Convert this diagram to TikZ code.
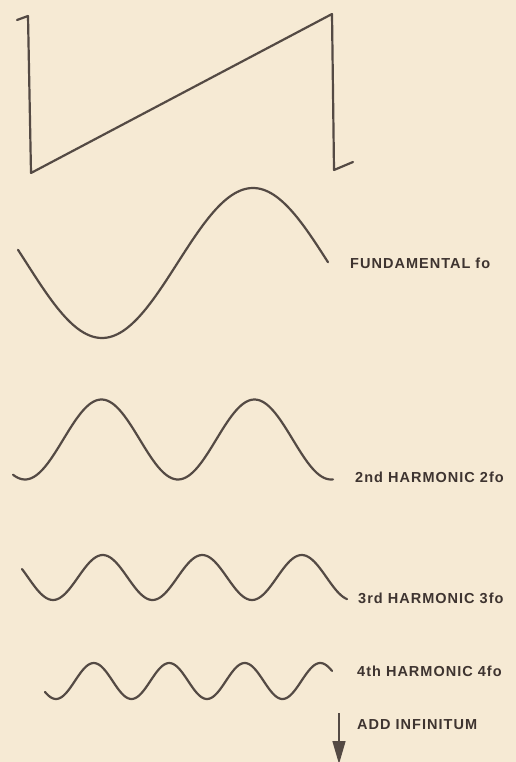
\documentclass[tikz,border=0pt]{standalone}
\usepackage{fontspec}
\newfontfamily\labfont[LetterSpace=7]{Liberation Sans}
\usetikzlibrary{arrows.meta}
\definecolor{paper}{RGB}{246,234,212}
\definecolor{ink}{RGB}{84,74,68}
\definecolor{txt}{RGB}{62,52,48}
\tikzset{
  wave/.style={draw=ink, line width=2.2pt, line cap=round, line join=round},
  lab/.style={anchor=base west, inner sep=0pt, text=txt, font=\labfont\bfseries\fontsize{14.5}{16}\selectfont},
}
\begin{document}
\begin{tikzpicture}[x=1pt,y=-1pt]
\fill[paper] (0,0) rectangle (516,762);
\useasboundingbox (0,0) rectangle (516,762);
% sawtooth
\draw[wave] (17,20) -- (28,16) -- (31,173) -- (332,14) -- (334,170) -- (353,162);
% fundamental
\draw[wave] plot[domain=18:328, samples=120, smooth] (\x, {263+75*cos((\x-102)/302*360)});
% 2nd harmonic
\draw[wave] plot[domain=13:333, samples=140, smooth] (\x, {439.5+40*cos((\x-25)/153*360)});
% 3rd harmonic
\draw[wave] plot[domain=22:347, samples=160, smooth] (\x, {577.5+22.5*cos((\x-53)/99.5*360)});
% 4th harmonic
\draw[wave] plot[domain=45:332, samples=160, smooth] (\x, {681+18*cos((\x-56)/75.5*360)});
% labels
\node[lab] (l1) at (350,268) {FUNDAMENTAL fo};
\node[lab] (l2) at (355,482) {2nd HARMONIC 2fo};
\node[lab] (l3) at (358,603) {3rd HARMONIC 3fo};
\node[lab] (l4) at (357,676) {4th HARMONIC 4fo};
\node[lab] (l5) at (357,729) {ADD INFINITUM};
% arrow
\coordinate (a0) at (339,713);
\coordinate (a1) at (339,764);
\draw[draw=ink, fill=ink, line width=1.4pt, -{Triangle[width=13pt,length=23pt]}] (a0) -- (a1);
\end{tikzpicture}
\end{document}
